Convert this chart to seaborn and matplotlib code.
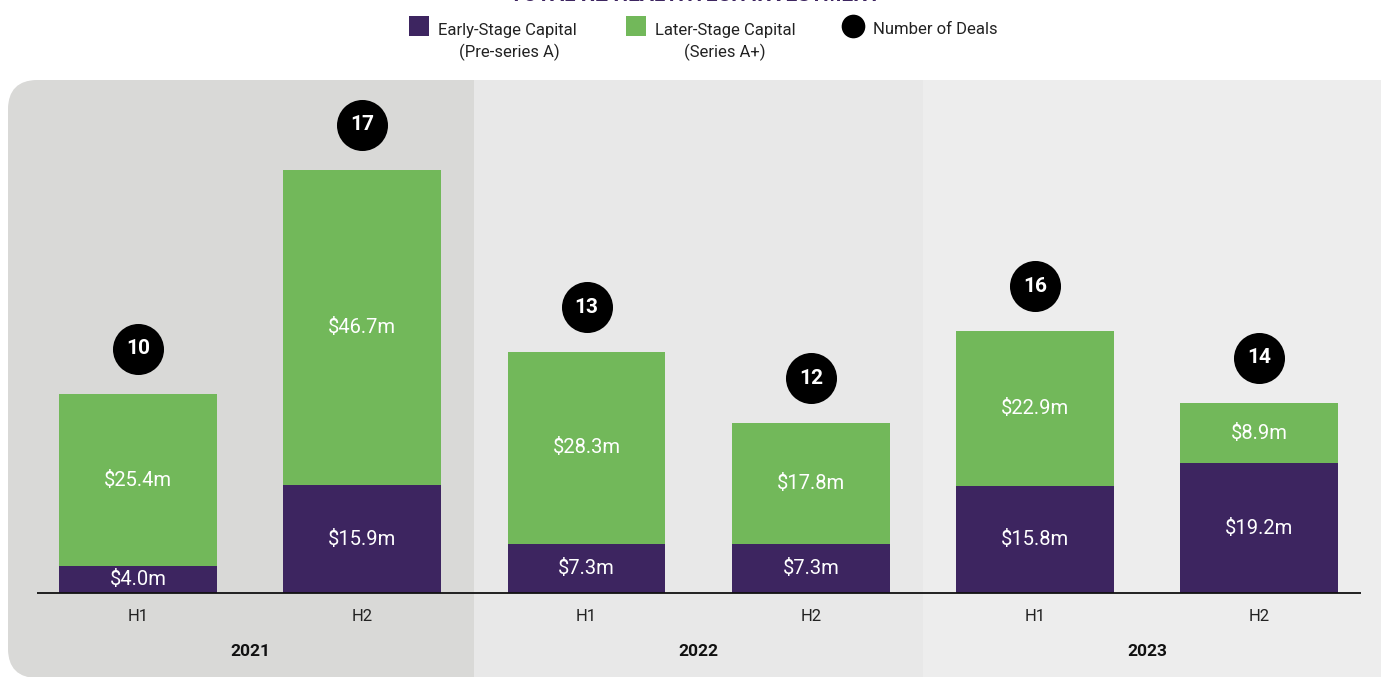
import numpy as np
import pandas as pd
import matplotlib
matplotlib.use('Agg')
import matplotlib.pyplot as plt
import seaborn as sns
from matplotlib import font_manager
from matplotlib.patches import FancyBboxPatch, Rectangle

# datos del grafico
years = ['2021', '2022', '2023']
halves = ['H1', 'H2', 'H1', 'H2', 'H1', 'H2']
early = [4.0, 15.9, 7.3, 7.3, 15.8, 19.2]
later = [25.4, 46.7, 28.3, 17.8, 22.9, 8.9]
deals = [10, 17, 13, 12, 16, 14]

PURPLE = '#3d2560'
GREEN = '#72b85a'
BAND_COLORS = ['#d9d9d7', '#e8e8e8', '#ededed']

# fuente estrecha si existe
installed = {f.name for f in font_manager.fontManager.ttflist}
family = [f for f in ['Liberation Sans Narrow', 'Roboto', 'DejaVu Sans'] if f in installed]
plt.rcParams['font.family'] = family

df = pd.DataFrame({'half': halves, 'early': early, 'later': later, 'deals': deals})
df['pos'] = np.arange(len(df))
df['total'] = df['early'] + df['later']
df['deal_y'] = df['total'] + 6.7

W, H = 1381, 677
fig = plt.figure(figsize=(W / 100, H / 100), dpi=100)

# fondo en pixeles
bg = fig.add_axes([0, 0, 1, 1], zorder=0)
bg.set_xlim(0, W)
bg.set_ylim(H, 0)
bg.axis('off')
panel = FancyBboxPatch((8, 80), W + 20, 598, boxstyle='round,pad=0,rounding_size=30',
                       fc=BAND_COLORS[2], ec='none')
bg.add_patch(panel)

# ejes principales
ax = fig.add_axes([0, 0, 1, 1], zorder=1)
ax.patch.set_alpha(0)
x0, x1 = -0.615, 5.542
y0, y1 = -12.43, 87.72

# bandas por año
for i, c in enumerate(BAND_COLORS[:2]):
    left = x0 - 1 if i == 0 else 2 * i - 0.5
    r = Rectangle((left, y0 - 5), 2 * i + 1.5 - left, y1 - y0 + 10, fc=c, ec='none', zorder=0)
    ax.add_patch(r)
    r.set_clip_path(panel)

sns.barplot(data=df, x='pos', y='total', color=GREEN, saturation=1, width=0.704,
            native_scale=True, ax=ax, zorder=2)
sns.barplot(data=df, x='pos', y='early', color=PURPLE, saturation=1, width=0.704,
            native_scale=True, ax=ax, zorder=3)
sns.scatterplot(data=df, x='pos', y='deal_y', color='black', s=1350, linewidth=0,
                ax=ax, zorder=4, legend=False)

ax.hlines(0, -0.45, 5.453, color='#111111', lw=1.3, zorder=5)

for _, r in df.iterrows():
    ax.text(r['pos'], r['early'] / 2, f"${r['early']:.1f}m", color='white', fontsize=14.5,
            ha='center', va='center', zorder=6)
    ax.text(r['pos'], r['early'] + r['later'] / 2, f"${r['later']:.1f}m", color='white',
            fontsize=14.5, ha='center', va='center', zorder=6)
    ax.text(r['pos'], r['deal_y'], str(r['deals']), color='white', fontsize=15,
            fontweight='bold', ha='center', va='center', zorder=6)
    ax.text(r['pos'], -3.55, r['half'], color='#222222', fontsize=12, ha='center', va='center')

for i, y in enumerate(years):
    ax.text(2 * i + 0.5, -8.73, y, color='#111111', fontsize=12.5, fontweight='bold',
            ha='center', va='center')

ax.set_xlim(x0, x1)
ax.set_ylim(y0, y1)
ax.axis('off')

# titulo (cortado arriba, como en la referencia) y leyenda
bg.text(695, 5, 'TOTAL NZ HEALTHTECH INVESTMENT', color=PURPLE, fontsize=15,
        fontweight='bold', ha='center', va='bottom')
bg.add_patch(Rectangle((409, 16), 20, 20, fc=PURPLE, ec='none'))
bg.add_patch(Rectangle((626, 16), 20, 20, fc=GREEN, ec='none'))
bg.scatter([853], [26], s=290, color='black', linewidths=0)
bg.text(438, 30, 'Early-Stage Capital', fontsize=12, color='#222222', va='center')
bg.text(509, 52, '(Pre-series A)', fontsize=12, color='#222222', va='center', ha='center')
bg.text(655, 30, 'Later-Stage Capital', fontsize=12, color='#222222', va='center')
bg.text(725, 52, '(Series A+)', fontsize=12, color='#222222', va='center', ha='center')
bg.text(873, 30, 'Number of Deals', fontsize=12, color='#222222', va='center')

fig.savefig('out.png', dpi=100)
